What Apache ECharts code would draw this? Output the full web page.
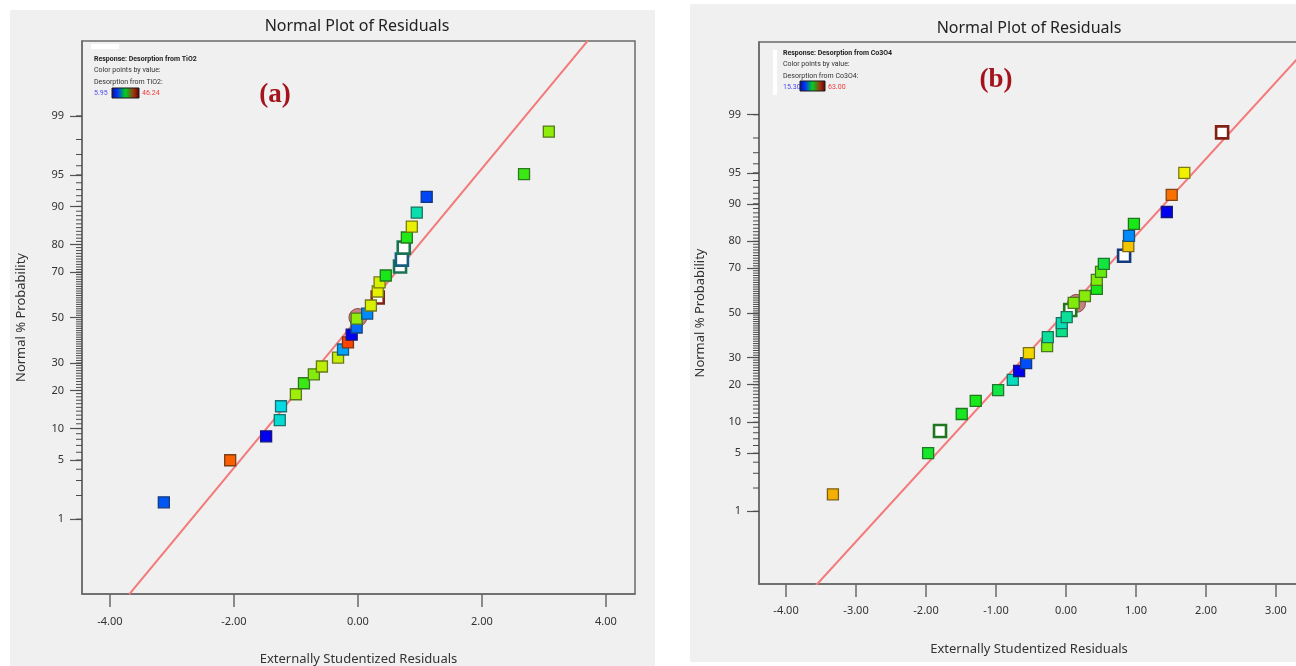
<!DOCTYPE html>
<html>
<head>
<meta charset="utf-8">
<script src="https://cdn.jsdelivr.net/npm/echarts@6/dist/echarts.min.js"></script>
<style>
  html, body { margin: 0; padding: 0; background: #ffffff; }
  #chart { width: 1296px; height: 666px; }
</style>
</head>
<body>
<div id="chart"></div>
<script>
// ---- data ----
// panel (a): Desorption from TiO2
var resA   = [-3.13, -2.06, -1.48, -1.26, -1.24, -1.00, -0.87, -0.71, -0.58, -0.32, -0.24, -0.16, -0.10, -0.02, -0.02, 0.15, 0.21, 0.32, 0.35, 0.45, 0.79, 0.87, 0.95, 1.11, 2.68, 3.08];
var probA  = [1.65, 4.98, 8.52, 11.8, 15.3, 18.8, 22.4, 25.6, 28.6, 32.2, 35.6, 38.7, 42.2, 45.4, 49.5, 51.8, 55.5, 61.8, 65.7, 68.6, 82.2, 85.3, 88.7, 91.8, 95.1, 98.4];
var valA   = [10.0, 43.0, 6.0, 18.0, 17.2, 32.4, 27.7, 31.1, 33.8, 34.2, 13.6, 44.2, 6.0, 11.0, 31.7, 12.4, 35.0, 35.8, 35.0, 26.1, 26.5, 35.8, 19.6, 9.2, 27.7, 31.7];
var hollowResA  = [0.32, 0.68, 0.71, 0.74];
var hollowProbA = [59.1, 72.2, 74.8, 79.0];
var hollowValA  = [46.0, 21.0, 14.0, 21.0];
var centerA = [[0.00, 50.0]];
var fitA = [[-3.69, 0.07], [3.71, 99.93]];
var rangeA = [5.95, 46.24];

// panel (b): Desorption from Co3O4
var resB   = [-3.33, -1.97, -1.49, -1.29, -0.97, -0.76, -0.67, -0.57, -0.53, -0.27, -0.26, -0.06, -0.06, 0.01, 0.11, 0.27, 0.44, 0.44, 0.50, 0.54, 0.89, 0.90, 0.97, 1.44, 1.51, 1.69];
var probB  = [1.67, 5.0, 11.8, 15.1, 18.3, 21.6, 24.8, 27.8, 31.9, 34.9, 38.9, 41.6, 45.3, 48.1, 54.7, 57.9, 61.1, 65.1, 68.5, 71.8, 78.4, 81.7, 85.2, 88.2, 91.7, 95.0];
var valB   = [54.7, 38.2, 38.7, 39.2, 36.8, 30.6, 15.3, 19.6, 52.5, 44.9, 32.5, 33.4, 31.0, 32.5, 44.9, 45.3, 39.2, 44.9, 43.4, 37.2, 53.5, 22.9, 39.2, 15.3, 58.2, 51.1];
var hollowResB  = [-1.80, 0.06, 0.83, 2.23];
var hollowProbB = [8.3, 51.4, 74.9, 98.3];
var hollowValB  = [39.2, 39.2, 20.1, 63.0];
var centerB = [[0.15, 54.5]];
var fitB = [[-3.57, 0.07], [3.54, 99.93]];
var rangeB = [15.30, 63.00];

// tick labels
var probLabels = [1, 5, 10, 20, 30, 50, 70, 80, 90, 95, 99];
var xTicksA = [-4, -2, 0, 2, 4];
var xTicksB = [-4, -3, -2, -1, 0, 1, 2, 3, 4];

// inverse normal cdf (probability scale of the y axis)
function probit(p) {
  var a = [-3.969683028665376e+01, 2.209460984245205e+02, -2.759285104469687e+02, 1.383577518672690e+02, -3.066479806614716e+01, 2.506628277459239e+00];
  var b = [-5.447609879822406e+01, 1.615858368580409e+02, -1.556989798598866e+02, 6.680131188771972e+01, -1.328068155288572e+01];
  var c = [-7.784894002430293e-03, -3.223964580411365e-01, -2.400758277161838e+00, -2.549671010218198e+00, 4.374664141464968e+00, 2.938163982698783e+00];
  var d = [7.784695709041462e-03, 3.224671290700398e-01, 2.445134137142996e+00, 3.754408661907416e+00];
  var q, r;
  if (p < 0.02425) {
    q = Math.sqrt(-2 * Math.log(p));
    return (((((c[0]*q+c[1])*q+c[2])*q+c[3])*q+c[4])*q+c[5]) / ((((d[0]*q+d[1])*q+d[2])*q+d[3])*q+1);
  }
  if (p > 1 - 0.02425) {
    q = Math.sqrt(-2 * Math.log(1 - p));
    return -(((((c[0]*q+c[1])*q+c[2])*q+c[3])*q+c[4])*q+c[5]) / ((((d[0]*q+d[1])*q+d[2])*q+d[3])*q+1);
  }
  q = p - 0.5; r = q * q;
  return (((((a[0]*r+a[1])*r+a[2])*r+a[3])*r+a[4])*r+a[5])*q / (((((b[0]*r+b[1])*r+b[2])*r+b[3])*r+b[4])*r+1);
}
function z(pct) { return probit(pct / 100); }

// colour by value, blue -> cyan -> green -> yellow -> red
var stops = [[0, [0, 0, 240]], [0.25, [0, 216, 255]], [0.5, [24, 232, 24]], [0.75, [240, 240, 0]], [1, [255, 26, 0]]];
function rgbAt(v, range) {
  var t = Math.max(0, Math.min(1, (v - range[0]) / (range[1] - range[0])));
  for (var i = 1; i < stops.length; i++) {
    if (t <= stops[i][0]) {
      var s0 = stops[i-1], s1 = stops[i], f = (t - s0[0]) / (s1[0] - s0[0]);
      return [0, 1, 2].map(function (k) { return Math.round(s0[1][k] + (s1[1][k] - s0[1][k]) * f); });
    }
  }
  return stops[stops.length - 1][1];
}
function css(c) { return 'rgb(' + c.join(',') + ')'; }
function dark(c) { return css(c.map(function (k) { return Math.round(k * 0.42 + 22); })); }

function filledData(xs, ps, vs, range) {
  return xs.map(function (x, i) {
    var c = rgbAt(vs[i], range);
    return { value: [x, z(ps[i])], itemStyle: { color: css(c), borderColor: dark(c) } };
  });
}
function hollowData(xs, ps, vs, range) {
  return xs.map(function (x, i) {
    var c = rgbAt(vs[i], range);
    return { value: [x, z(ps[i])], itemStyle: { color: '#ffffff', borderColor: dark(c) } };
  });
}
function pts(list) { return list.map(function (d) { return [d[0], z(d[1])]; }); }

var majorZ = probLabels.map(z);
var minorPct = [];
for (var k = 1; k <= 99; k++) minorPct.push(k);

var FONT = '"Noto Sans", "DejaVu Sans", sans-serif';
var axisColor = '#6a6a6a';
var textColor = '#333333';

function probLabel(v) {
  for (var i = 0; i < majorZ.length; i++) {
    if (Math.abs(majorZ[i] - v) < 1e-6) return String(probLabels[i]);
  }
  return '';
}

function xAxis(grid, min, max, ticks, name, gap, margin) {
  return {
    gridIndex: grid, type: 'value', min: min, max: max,
    name: name, nameLocation: 'middle', nameGap: gap,
    nameTextStyle: { fontFamily: FONT, fontSize: 13, color: textColor },
    axisLine: { show: true, onZero: false, lineStyle: { color: axisColor, width: 1.5 } },
    axisTick: { show: true, customValues: ticks, length: 13, lineStyle: { color: axisColor, width: 1.5 } },
    axisLabel: { customValues: ticks, margin: margin, fontFamily: FONT, fontSize: 11, color: textColor,
      formatter: function (v) { return v.toFixed(2); } },
    splitLine: { show: false }
  };
}
function yAxis(grid, lim, gap) {
  return {
    gridIndex: grid, type: 'value', min: -lim, max: lim, position: 'left',
    name: 'Normal % Probability', nameLocation: 'middle', nameGap: gap, nameRotate: 90,
    nameTextStyle: { fontFamily: FONT, fontSize: 13, color: textColor },
    axisLine: { show: true, onZero: false, lineStyle: { color: axisColor, width: 1.5 } },
    axisTick: { show: true, customValues: majorZ, length: 12, lineStyle: { color: '#555555', width: 1.2 } },
    axisLabel: { customValues: majorZ, margin: 18, fontFamily: FONT, fontSize: 11, color: textColor, formatter: probLabel },
    splitLine: { show: false }
  };
}

// short 1 % ticks along the left axis, placed through the axis scale
function minorTicks(xi, yi, xMin) {
  return {
    type: 'custom', xAxisIndex: xi, yAxisIndex: yi, silent: true, clip: false, z: 1,
    data: minorPct.map(function (p) { return [xMin, z(p)]; }),
    renderItem: function (params, api) {
      var pt = api.coord([api.value(0), api.value(1)]);
      return { type: 'line', shape: { x1: pt[0] - 6, y1: pt[1], x2: pt[0], y2: pt[1] },
        style: { stroke: '#4a4a4a', lineWidth: 1 } };
    }
  };
}

function panelSeries(xi, yi, xMin, fit, center, hollow, filled) {
  return [
    minorTicks(xi, yi, xMin),
    { type: 'line', xAxisIndex: xi, yAxisIndex: yi, data: pts(fit), symbol: 'none', z: 2,
      lineStyle: { color: '#f47a7a', width: 2 } },
    { type: 'scatter', xAxisIndex: xi, yAxisIndex: yi, data: pts(center), symbol: 'circle', symbolSize: 18, z: 3,
      itemStyle: { color: 'rgba(178,78,82,0.85)', borderColor: '#7a3030', borderWidth: 1 } },
    { type: 'scatter', xAxisIndex: xi, yAxisIndex: yi, data: hollow, symbol: 'rect', symbolSize: 12, z: 4,
      itemStyle: { borderWidth: 2.6, opacity: 1 } },
    { type: 'scatter', xAxisIndex: xi, yAxisIndex: yi, data: filled, symbol: 'rect', symbolSize: 11, z: 5,
      itemStyle: { borderWidth: 1.3, opacity: 1 } }
  ];
}

function legendBlock(x, y, name, range, barX, barW, barY) {
  var small = '7px Roboto, ' + FONT;
  return [
    { type: 'text', x: x, y: y, style: { text: 'Response: Desorption from ' + name, font: 'bold ' + small, fill: '#222', verticalAlign: 'middle' } },
    { type: 'text', x: x, y: y + 11, style: { text: 'Color points by value:', font: small, fill: '#333', verticalAlign: 'middle' } },
    { type: 'text', x: x, y: y + 23, style: { text: 'Desorption from ' + name + ':', font: small, fill: '#333', verticalAlign: 'middle' } },
    { type: 'text', x: x, y: y + 34, style: { text: range[0].toFixed(2), font: small, fill: '#4a4af0', verticalAlign: 'middle' } },
    { type: 'rect', shape: { x: barX, y: barY, width: barW, height: 10 },
      style: { stroke: '#1a1a1a', lineWidth: 1,
        fill: new echarts.graphic.LinearGradient(0, 0, 1, 0, [
          { offset: 0, color: '#10107a' }, { offset: 0.2, color: '#0030ff' },
          { offset: 0.5, color: '#00d020' }, { offset: 0.8, color: '#a03010' }, { offset: 1, color: '#5a0000' }]) } },
    { type: 'text', x: barX + barW + 3, y: y + 34, style: { text: range[1].toFixed(2), font: small, fill: '#f03a3a', verticalAlign: 'middle' } }
  ];
}

var chart = echarts.init(document.getElementById('chart'), null, { renderer: 'canvas' });

var graphics = [
  { type: 'rect', z: -10, shape: { x: 10, y: 10, width: 645, height: 656 }, style: { fill: '#f0f0f0' } },
  { type: 'rect', z: -10, shape: { x: 690, y: 4, width: 606, height: 658 }, style: { fill: '#f0f0f0' } },
  { type: 'text', x: 357, y: 26, style: { text: 'Normal Plot of Residuals', font: '16px ' + FONT, fill: '#222', align: 'center', verticalAlign: 'middle' } },
  { type: 'text', x: 1029, y: 28, style: { text: 'Normal Plot of Residuals', font: '16px ' + FONT, fill: '#222', align: 'center', verticalAlign: 'middle' } },
  { type: 'text', x: 1029, y: 649, style: { text: 'Externally Studentized Residuals', font: '13px ' + FONT, fill: textColor, align: 'center', verticalAlign: 'middle' } },
  { type: 'rect', shape: { x: 91, y: 44, width: 28, height: 5 }, style: { fill: '#ffffff' } },
  { type: 'rect', shape: { x: 773, y: 50, width: 4, height: 45 }, style: { fill: '#ffffff' } },
  { type: 'text', x: 275, y: 95, style: { text: '(a)', font: 'bold 27px "Liberation Serif", serif', fill: '#a3141c', align: 'center', verticalAlign: 'middle' } },
  { type: 'text', x: 996, y: 80, style: { text: '(b)', font: 'bold 27px "Liberation Serif", serif', fill: '#a3141c', align: 'center', verticalAlign: 'middle' } }
].concat(legendBlock(94, 59, 'TiO2', rangeA, 112, 27, 88))
 .concat(legendBlock(783, 53, 'Co3O4', rangeB, 800, 25, 81));

var xMinA = -4.45, xMaxA = 4.47;
var xMinB = -4.386, xMaxB = 4.5;

var option = {
  animation: false,
  backgroundColor: '#ffffff',
  graphic: { elements: graphics },
  grid: [
    { left: 82, top: 41, width: 553, height: 553, outerBoundsMode: 'none', containLabel: false,
      show: true, borderColor: axisColor, borderWidth: 1.5, backgroundColor: 'transparent' },
    { left: 759, top: 42, width: 622, height: 542, outerBoundsMode: 'none', containLabel: false,
      show: true, borderColor: axisColor, borderWidth: 1.5, backgroundColor: 'transparent' }
  ],
  xAxis: [
    xAxis(0, xMinA, xMaxA, xTicksA, 'Externally Studentized Residuals', 59, 22),
    xAxis(1, xMinB, xMaxB, xTicksB, '', 60, 21)
  ],
  yAxis: [
    yAxis(0, 3.19, 54),
    yAxis(1, 3.18, 52)
  ],
  series: [].concat(
    panelSeries(0, 0, xMinA, fitA, centerA, hollowData(hollowResA, hollowProbA, hollowValA, rangeA), filledData(resA, probA, valA, rangeA)),
    panelSeries(1, 1, xMinB, fitB, centerB, hollowData(hollowResB, hollowProbB, hollowValB, rangeB), filledData(resB, probB, valB, rangeB))
  )
};

chart.setOption(option);
</script>
</body>
</html>
